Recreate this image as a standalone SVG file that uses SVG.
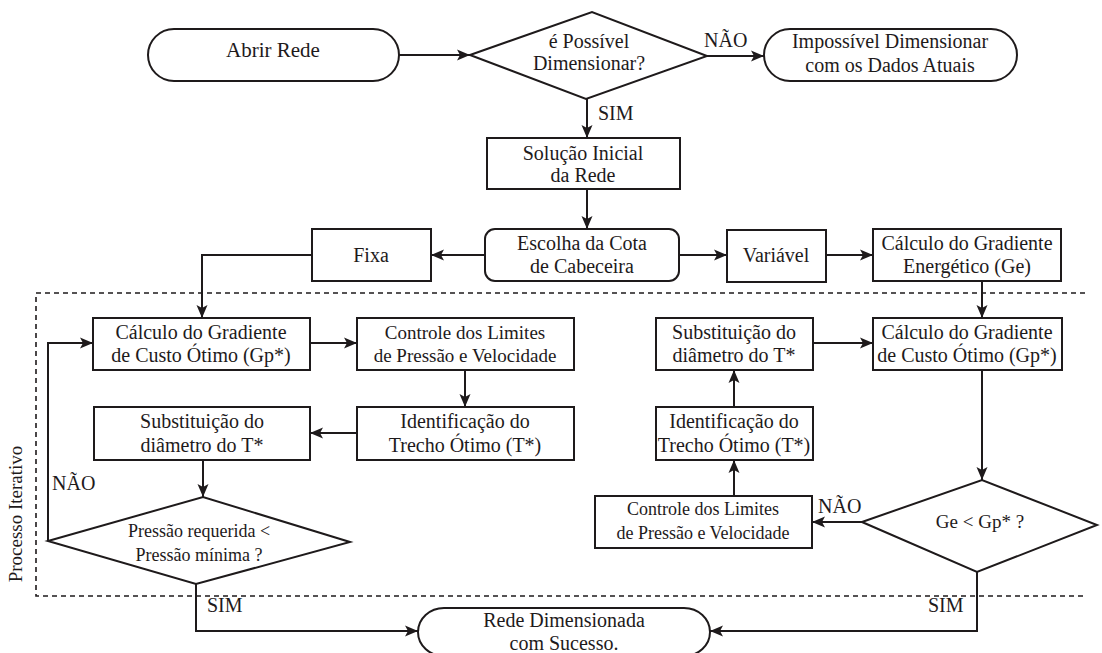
<svg xmlns="http://www.w3.org/2000/svg" width="1102" height="653" viewBox="0 0 1102 653">
<defs>
<marker id="ah" markerUnits="userSpaceOnUse" markerWidth="14" markerHeight="12" refX="13" refY="6" orient="auto">
<path d="M0,0.5 L13,6 L0,11.5 L3,6 z" fill="#1e1a1b"/>
</marker>
<style>
.s{fill:#fff;stroke:#1e1a1b;stroke-width:2}
.a{fill:none;stroke:#1e1a1b;stroke-width:2;marker-end:url(#ah)}
text{font-family:'Liberation Serif','Times New Roman',serif;font-size:20px;fill:#1e1a1b;text-anchor:middle}
.sm{font-size:18px}
.md{font-size:19px}
.lb{text-anchor:start}
</style>
</defs>
<rect width="1102" height="653" fill="#fff"/>
<path d="M1085,293 H36 V596 H1085" fill="none" stroke="#1e1a1b" stroke-width="1.6" stroke-dasharray="5,4"/>
<text class="md" x="22" y="514" transform="rotate(-90 22 514)">Processo Iterativo</text>
<g id="connectors">
<path class="a" d="M399,55 H470"/>
<path class="a" d="M707,56 H764"/>
<path class="a" d="M587,99 V138"/>
<path class="a" d="M587,189 V229"/>
<path class="a" d="M485,255 H431"/>
<path class="a" d="M312,255 H202 V318"/>
<path class="a" d="M679,255 H727"/>
<path class="a" d="M826,255 H873"/>
<path class="a" d="M982,281 V318"/>
<path class="a" d="M310,343 H357"/>
<path class="a" d="M465,370 V407"/>
<path class="a" d="M357,433 H310"/>
<path class="a" d="M203,460 V497"/>
<path class="a" d="M48,541 V343 H93"/>
<path class="a" d="M196,584 V631 H418"/>
<path class="a" d="M813,343 H873"/>
<path class="a" d="M734,407 V370"/>
<path class="a" d="M734,496 V460"/>
<path class="a" d="M982,370 V480"/>
<path class="a" d="M862,522 H812"/>
<path class="a" d="M977,572 V631 H710"/>
<text class="lb" x="704" y="47">NÃO</text>
<text class="lb" x="598" y="120">SIM</text>
<text class="lb" x="52" y="490">NÃO</text>
<text class="lb" x="207" y="612">SIM</text>
<text class="lb" x="818" y="513">NÃO</text>
<text class="lb" x="928" y="612">SIM</text>
</g>
<g id="abrir">
<rect class="s" x="148" y="29" width="251" height="52" rx="26" ry="26"/>
<text x="273" y="57" style="font-size:21px">Abrir Rede</text>
</g>
<g id="possivel">
<polygon class="s" points="470,55 592,12 707,56 586,99"/>
<text x="589" y="48">é Possível</text>
<text x="589" y="70">Dimensionar?</text>
</g>
<g id="impossivel">
<rect class="s" x="764" y="29" width="253" height="52" rx="26" ry="26"/>
<text x="890" y="48">Impossível Dimensionar</text>
<text x="890" y="72">com os Dados Atuais</text>
</g>
<g id="solucao">
<rect class="s" x="487" y="138" width="193" height="51"/>
<text x="583" y="160">Solução Inicial</text>
<text x="583" y="182">da Rede</text>
</g>
<g id="escolha">
<rect class="s" x="485" y="229" width="194" height="52" rx="10" ry="10"/>
<text x="582" y="250">Escolha da Cota</text>
<text x="582" y="273">de Cabeceira</text>
</g>
<g id="fixa">
<rect class="s" x="312" y="229" width="119" height="52"/>
<text x="371" y="262">Fixa</text>
</g>
<g id="variavel">
<rect class="s" x="727" y="230" width="99" height="52"/>
<text x="776" y="262">Variável</text>
</g>
<g id="energetico">
<rect class="s" x="873" y="229" width="188" height="52"/>
<text x="967" y="250">Cálculo do Gradiente</text>
<text x="967" y="273">Energético (Ge)</text>
</g>
<g id="calculo-esq">
<rect class="s" x="93" y="318" width="217" height="52"/>
<text x="201" y="339">Cálculo do Gradiente</text>
<text x="201" y="362">de Custo Ótimo (Gp*)</text>
</g>
<g id="controle-esq">
<rect class="s" x="357" y="318" width="217" height="52"/>
<text class="md" x="465" y="339">Controle dos Limites</text>
<text class="md" x="465" y="362">de Pressão e Velocidade</text>
</g>
<g id="identificacao-esq">
<rect class="s" x="357" y="407" width="217" height="53"/>
<text x="465" y="428">Identificação do</text>
<text x="465" y="452">Trecho Ótimo (T*)</text>
</g>
<g id="substituicao-esq">
<rect class="s" x="94" y="407" width="216" height="53"/>
<text x="202" y="428">Substituição do</text>
<text x="202" y="452">diâmetro do T*</text>
</g>
<g id="pressao">
<polygon class="s" points="48,541 203,497 350,542 196,584"/>
<text class="sm" x="199" y="537">Pressão requerida &lt;</text>
<text class="sm" x="199" y="561">Pressão mínima ?</text>
</g>
<g id="substituicao-dir">
<rect class="s" x="656" y="318" width="157" height="52"/>
<text x="734" y="339">Substituição do</text>
<text x="734" y="362">diâmetro do T*</text>
</g>
<g id="calculo-dir">
<rect class="s" x="873" y="318" width="189" height="52"/>
<text x="967" y="339">Cálculo do Gradiente</text>
<text x="967" y="362">de Custo Ótimo (Gp*)</text>
</g>
<g id="identificacao-dir">
<rect class="s" x="656" y="407" width="157" height="53"/>
<text x="734" y="428">Identificação do</text>
<text x="734" y="452">Trecho Ótimo (T*)</text>
</g>
<g id="controle-dir">
<rect class="s" x="595" y="496" width="217" height="52"/>
<text class="sm" x="703" y="515">Controle dos Limites</text>
<text class="sm" x="703" y="539">de Pressão e Velocidade</text>
</g>
<g id="ge">
<polygon class="s" points="862,522 982,480 1097,525 977,572"/>
<text class="md" x="980" y="528">Ge &lt; Gp* ?</text>
</g>
<g id="rede">
<rect class="s" x="418" y="608" width="292" height="48" rx="26" ry="24"/>
<text x="564" y="627">Rede Dimensionada</text>
<text x="564" y="650">com Sucesso.</text>
</g>
</svg>
